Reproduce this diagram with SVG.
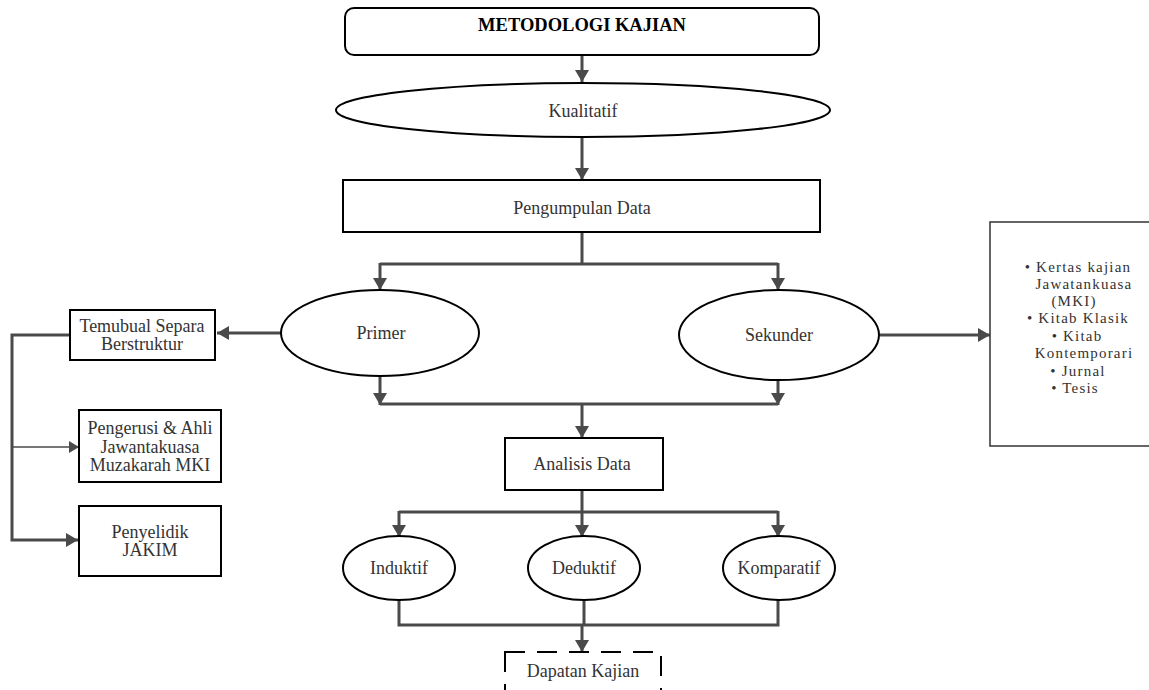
<svg xmlns="http://www.w3.org/2000/svg" width="1149" height="690" viewBox="0 0 1149 690">
<style>
.shape{fill:#fff;stroke:#000;stroke-width:2}
.conn{fill:none;stroke:#4a4a4a;stroke-width:3}
.thin{fill:none;stroke:#4a4a4a;stroke-width:1.5}
text{font-family:"Liberation Serif","Times New Roman",serif;font-size:18px;fill:#333;text-anchor:middle}
.title{font-weight:bold;fill:#000;font-size:18.5px}
.list{font-size:15px;letter-spacing:1.2px}
</style>
<defs>
<marker id="ah" markerUnits="userSpaceOnUse" markerWidth="14" markerHeight="14" refX="12" refY="7" orient="auto">
<path d="M0,0 L12,7 L0,14 Z" fill="#4a4a4a"/>
</marker>
<marker id="ahs" markerUnits="userSpaceOnUse" markerWidth="12" markerHeight="12" refX="10" refY="6" orient="auto">
<path d="M0,0 L10,6 L0,12 Z" fill="#4a4a4a"/>
</marker>
</defs>
<rect width="1149" height="690" fill="#fff"/>
<g id="connectors">
<path class="conn" d="M582,55 V82" marker-end="url(#ah)"/>
<path class="conn" d="M582,138 V180" marker-end="url(#ah)"/>
<path class="conn" d="M582,232 V264"/>
<path class="conn" d="M380,264 H778"/>
<path class="conn" d="M380,263 V290" marker-end="url(#ah)"/>
<path class="conn" d="M778,263 V290" marker-end="url(#ah)"/>
<path class="conn" d="M281,333 H217" marker-end="url(#ah)"/>
<path class="conn" d="M70,335 H12 V540 H78" marker-end="url(#ah)"/>
<path class="thin" d="M12,447 H79" marker-end="url(#ahs)"/>
<path class="conn" d="M880,335 H990" marker-end="url(#ah)"/>
<path class="conn" d="M380,376 V405" marker-end="url(#ah)"/>
<path class="conn" d="M778,380 V405" marker-end="url(#ah)"/>
<path class="conn" d="M380,404 H778"/>
<path class="conn" d="M582,404 V438" marker-end="url(#ah)"/>
<path class="conn" d="M582,490 V537" marker-end="url(#ah)"/>
<path class="conn" d="M399,512 H778"/>
<path class="conn" d="M399,511 V537" marker-end="url(#ah)"/>
<path class="conn" d="M778,511 V537" marker-end="url(#ah)"/>
<path class="conn" d="M399,600 V625 H778 V600"/>
<path class="conn" d="M584,600 V625"/>
<path class="conn" d="M582,624 V652" marker-end="url(#ah)"/>
</g>
<g id="metodologi">
<rect class="shape" x="345" y="8" width="474" height="47" rx="9"/>
<text class="title" x="582" y="31">METODOLOGI KAJIAN</text>
</g>
<g id="kualitatif">
<ellipse class="shape" cx="583" cy="110" rx="247" ry="27"/>
<text x="583" y="117">Kualitatif</text>
</g>
<g id="pengumpulan">
<rect class="shape" x="343" y="180" width="477" height="52"/>
<text x="582" y="214">Pengumpulan Data</text>
</g>
<g id="primer">
<ellipse class="shape" cx="380" cy="333" rx="99" ry="43"/>
<text x="381" y="339">Primer</text>
</g>
<g id="sekunder">
<ellipse class="shape" cx="779" cy="335" rx="100" ry="45"/>
<text x="779" y="341">Sekunder</text>
</g>
<g id="temubual">
<rect class="shape" x="70" y="310" width="145" height="50"/>
<text x="142" y="332">Temubual Separa</text>
<text x="142" y="350">Berstruktur</text>
</g>
<g id="pengerusi">
<rect class="shape" x="79" y="410" width="142" height="72"/>
<text x="150" y="434">Pengerusi &amp; Ahli</text>
<text x="150" y="453">Jawantakuasa</text>
<text x="150" y="471">Muzakarah MKI</text>
</g>
<g id="penyelidik">
<rect class="shape" x="79" y="506" width="142" height="70"/>
<text x="150" y="538">Penyelidik</text>
<text x="150" y="556">JAKIM</text>
</g>
<g id="sumber">
<rect x="990" y="222" width="170" height="224" fill="#fff" stroke="#333" stroke-width="1.5"/>
<text class="list" x="1078" y="272">• Kertas kajian</text>
<text class="list" x="1084" y="289">Jawatankuasa</text>
<text class="list" x="1074" y="306">(MKI)</text>
<text class="list" x="1078" y="323">• Kitab Klasik</text>
<text class="list" x="1077" y="341">• Kitab</text>
<text class="list" x="1084" y="358">Kontemporari</text>
<text class="list" x="1078" y="376">• Jurnal</text>
<text class="list" x="1075" y="393">• Tesis</text>
</g>
<g id="analisis">
<rect class="shape" x="505" y="438" width="158" height="52"/>
<text x="582" y="470">Analisis Data</text>
</g>
<g id="induktif">
<ellipse class="shape" cx="399" cy="568" rx="56" ry="32"/>
<text x="399" y="574">Induktif</text>
</g>
<g id="deduktif">
<ellipse class="shape" cx="584" cy="568" rx="56" ry="32"/>
<text x="584" y="574">Deduktif</text>
</g>
<g id="komparatif">
<ellipse class="shape" cx="779" cy="568" rx="56" ry="32"/>
<text x="779" y="574">Komparatif</text>
</g>
<g id="dapatan">
<rect x="505" y="652" width="156" height="46" fill="#fff" stroke="#000" stroke-width="2" stroke-dasharray="20,12"/>
<text x="583" y="677">Dapatan Kajian</text>
</g>
</svg>
